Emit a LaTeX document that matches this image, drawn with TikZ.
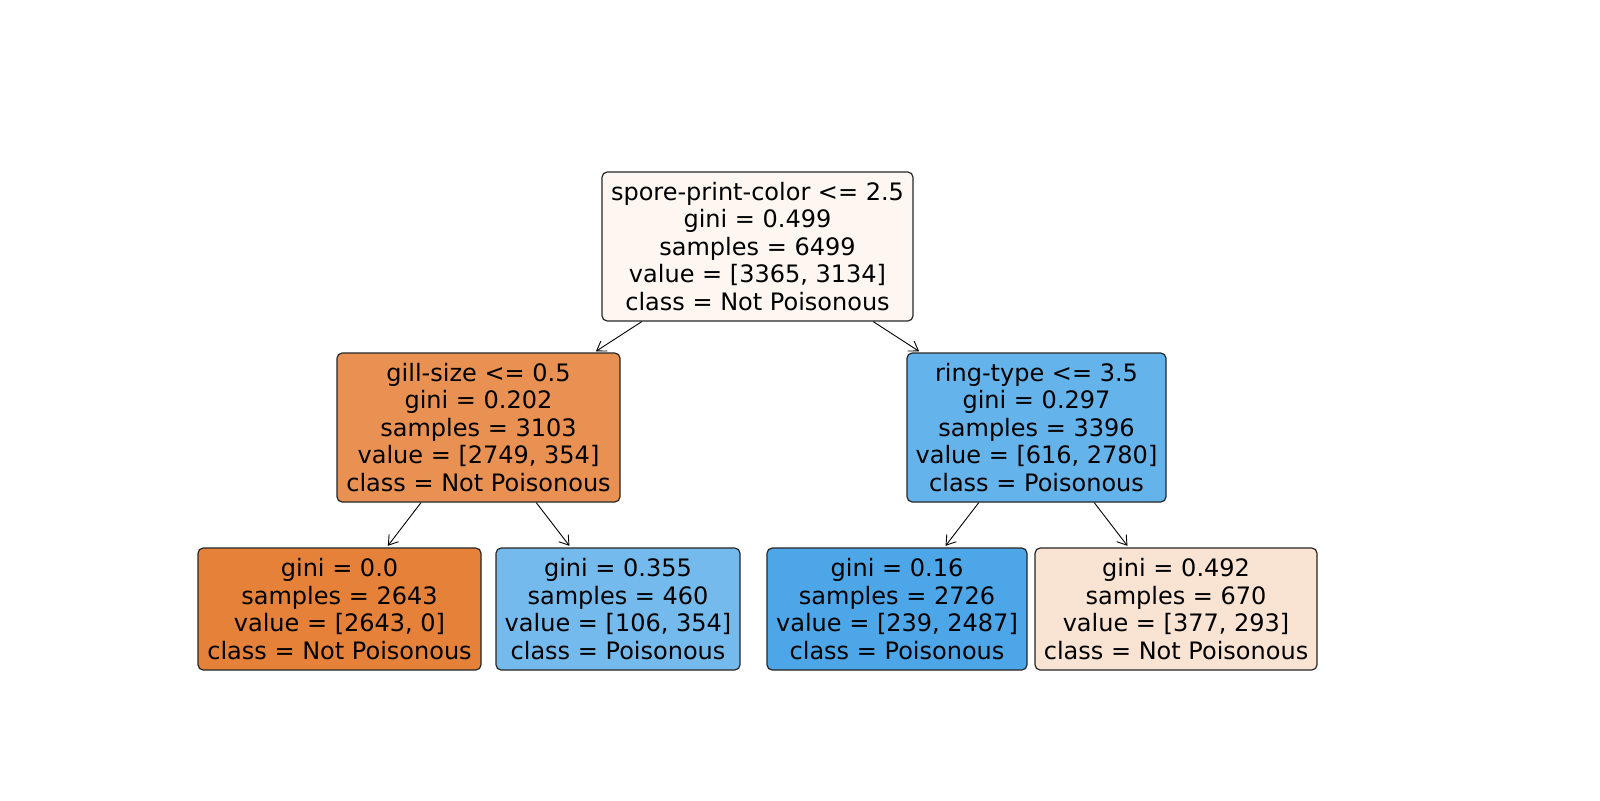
\documentclass[tikz,border=0pt]{standalone}
\usepackage{fontspec}
\setmainfont{DejaVu Sans}
\usetikzlibrary{arrows.meta}
\definecolor{croot}{RGB}{253,246,241}
\definecolor{cgill}{RGB}{232,145,83}
\definecolor{cring}{RGB}{101,179,235}
\definecolor{cleafa}{RGB}{229,129,57}
\definecolor{cleafb}{RGB}{116,186,237}
\definecolor{cleafc}{RGB}{76,166,231}
\definecolor{cleafd}{RGB}{249,227,211}
\tikzset{
  treebox/.style={draw=black!85, line width=0.6pt, rounded corners=2.6pt, inner sep=0pt,
    align=center, font=\fontsize{12pt}{13.75pt}\selectfont, text=black},
  inner/.style={treebox, minimum height=74.5pt},
  leafbox/.style={treebox, minimum height=61pt},
  arr/.style={-{Straight Barb[length=4.5pt,width=6pt]}, line width=0.45pt, black, shorten >=1pt}
}
\begin{document}
\begin{tikzpicture}[x=0.5pt,y=-0.5pt]
\useasboundingbox (0,0) rectangle (1600,800);
\node[inner, fill=croot, minimum width=155.5pt] (root) at (757.5,246.5)
  {spore-print-color <= 2.5\\gini = 0.499\\samples = 6499\\value = [3365, 3134]\\class = Not Poisonous};
\node[inner, fill=cgill, minimum width=141.5pt] (gill) at (478.5,427.5)
  {gill-size <= 0.5\\gini = 0.202\\samples = 3103\\value = [2749, 354]\\class = Not Poisonous};
\node[inner, fill=cring, minimum width=129.5pt] (ring) at (1036.5,427.5)
  {ring-type <= 3.5\\gini = 0.297\\samples = 3396\\value = [616, 2780]\\class = Poisonous};
\node[leafbox, fill=cleafa, minimum width=141.5pt] (l1) at (339.5,609)
  {gini = 0.0\\samples = 2643\\value = [2643, 0]\\class = Not Poisonous};
\node[leafbox, fill=cleafb, minimum width=122pt] (l2) at (618,609)
  {gini = 0.355\\samples = 460\\value = [106, 354]\\class = Poisonous};
\node[leafbox, fill=cleafc, minimum width=130pt] (l3) at (897,609)
  {gini = 0.16\\samples = 2726\\value = [239, 2487]\\class = Poisonous};
\node[leafbox, fill=cleafd, minimum width=141pt] (l4) at (1176,609)
  {gini = 0.492\\samples = 670\\value = [377, 293]\\class = Not Poisonous};
\draw[arr] (root) -- (gill);
\draw[arr] (root) -- (ring);
\draw[arr] (gill) -- (l1);
\draw[arr] (gill) -- (l2);
\draw[arr] (ring) -- (l3);
\draw[arr] (ring) -- (l4);
\end{tikzpicture}
\end{document}
